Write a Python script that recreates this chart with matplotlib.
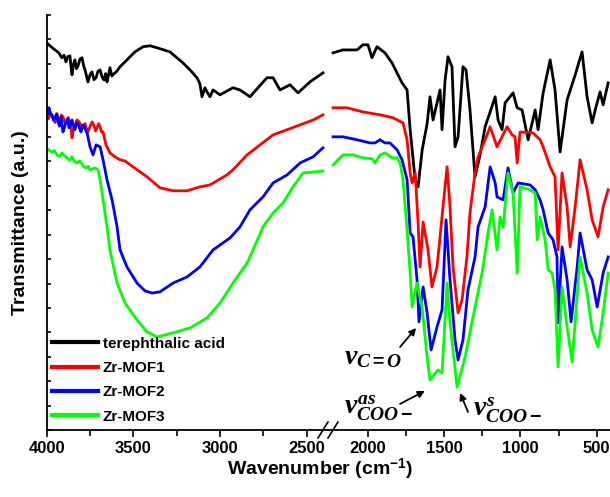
import matplotlib
matplotlib.use("Agg")
import matplotlib.pyplot as plt
from matplotlib.lines import Line2D

plt.rcParams['font.family'] = ['Liberation Sans', 'DejaVu Sans']
plt.rcParams['font.weight'] = 'bold'
plt.rcParams['mathtext.fontset'] = 'custom'
plt.rcParams['mathtext.rm'] = 'Liberation Sans:bold'
plt.rcParams['mathtext.bf'] = 'Liberation Sans:bold'
plt.rcParams['mathtext.it'] = 'Liberation Serif:italic:bold'

# ---- high wavenumber part (4000 - 2400 cm-1) ----
tpa_hi_wn = [4000, 3975, 3952, 3930, 3913, 3900, 3889, 3878, 3866, 3860, 3854, 3845, 3837, 3828,
             3819, 3808, 3796, 3788, 3779, 3770, 3762, 3750, 3739, 3727, 3715, 3704, 3692, 3680,
             3669, 3660, 3652, 3643, 3635, 3624, 3612, 3595, 3577, 3537, 3491, 3444, 3404, 3364,
             3289, 3214, 3173, 3133, 3116, 3104, 3087, 3075, 3058, 3040, 3000, 2925, 2885, 2827,
             2781, 2729, 2694, 2654, 2596, 2550, 2481, 2406]
tpa_hi = [15.86, 15.70, 15.57, 15.45, 15.25, 15.35, 15.08, 15.30, 15.33, 14.90, 14.55, 15.00, 15.16,
          14.80, 14.92, 15.20, 15.25, 14.95, 14.75, 14.50, 14.26, 14.55, 14.67, 14.35, 14.43, 14.70,
          14.75, 14.45, 14.34, 14.60, 14.26, 14.55, 14.84, 14.50, 14.59, 14.70, 14.88, 15.16, 15.49,
          15.70, 15.74, 15.66, 15.49, 15.04, 14.75, 14.43, 14.18, 13.65, 14.02, 13.85, 13.65, 13.93,
          13.73, 14.02, 13.93, 13.65, 14.02, 14.43, 14.43, 13.93, 14.14, 13.81, 14.26, 14.63]

mof1_hi_wn = [4000, 3990, 3981, 3972, 3964, 3952, 3941, 3932, 3923, 3915, 3906, 3895, 3883, 3875,
              3866, 3860, 3854, 3846, 3837, 3825, 3813, 3802, 3790, 3778, 3767, 3758, 3750, 3738,
              3727, 3718, 3710, 3700, 3692, 3683, 3675, 3658, 3645, 3635, 3606, 3577, 3548, 3502,
              3421, 3346, 3271, 3190, 3116, 3058, 2960, 2925, 2844, 2769, 2694, 2613, 2538, 2463, 2406]
mof1_hi = [12.91, 12.75, 13.03, 12.85, 12.79, 12.60, 12.95, 12.72, 12.66, 12.90, 12.83, 12.60, 12.70,
           12.80, 12.54, 12.40, 11.97, 12.30, 12.46, 12.70, 12.62, 12.45, 12.38, 12.55, 12.17, 12.30,
           12.42, 12.62, 12.46, 12.25, 12.38, 12.55, 12.42, 12.20, 12.21, 11.68, 11.50, 11.35, 11.19,
           11.07, 11.02, 10.78, 10.37, 9.92, 9.80, 9.80, 9.96, 10.04, 10.45, 10.66, 11.27, 11.68,
           12.09, 12.30, 12.50, 12.70, 12.91]

mof2_hi_wn = [4000, 3993, 3987, 3978, 3969, 3960, 3952, 3943, 3935, 3926, 3917, 3912, 3906, 3897,
              3889, 3880, 3871, 3862, 3854, 3845, 3837, 3828, 3819, 3810, 3802, 3793, 3785, 3776,
              3767, 3750, 3733, 3715, 3692, 3675, 3652, 3623, 3594, 3577, 3537, 3479, 3433, 3392,
              3346, 3271, 3190, 3116, 3040, 3000, 2942, 2885, 2827, 2752, 2694, 2613, 2538, 2463, 2406]
mof2_hi = [13.11, 12.95, 13.20, 12.95, 12.91, 12.70, 12.79, 12.95, 12.62, 12.45, 12.83, 12.50, 12.21,
           12.40, 12.62, 12.75, 12.38, 12.55, 12.70, 12.45, 12.30, 12.60, 12.54, 12.35, 12.21, 12.50,
           12.46, 12.30, 12.17, 11.60, 11.27, 11.68, 11.60, 11.07, 10.25, 9.43, 8.32, 7.38, 6.68,
           6.02, 5.70, 5.61, 5.66, 6.02, 6.27, 6.68, 7.38, 7.58, 7.87, 8.32, 9.02, 9.55, 10.12, 10.45,
           10.94, 11.19, 11.56]

mof3_hi_wn = [4000, 3985, 3969, 3955, 3941, 3926, 3912, 3898, 3883, 3868, 3854, 3840, 3825, 3810,
              3796, 3785, 3773, 3760, 3750, 3735, 3721, 3704, 3692, 3675, 3652, 3635, 3623, 3594,
              3548, 3479, 3421, 3364, 3271, 3173, 3075, 3000, 2925, 2844, 2809, 2752, 2694, 2636,
              2579, 2521, 2463, 2406]
mof3_hi = [11.56, 11.45, 11.39, 11.45, 11.27, 11.20, 11.35, 11.25, 11.15, 11.05, 11.19, 11.00, 10.94,
           11.02, 10.90, 10.78, 10.74, 10.80, 10.66, 10.70, 10.74, 10.66, 10.25, 9.43, 8.32, 7.38,
           6.97, 6.02, 5.20, 4.51, 4.02, 3.81, 3.98, 4.18, 4.59, 5.20, 6.02, 6.84, 7.38, 8.32, 8.89,
           9.30, 9.96, 10.53, 10.57, 10.61]

# ---- fingerprint part (2250 - 420 cm-1) ----
tpa_lo_wn = [2227, 2162, 2070, 2031, 1998, 1972, 1939, 1887, 1841, 1808, 1775, 1742, 1722, 1689,
             1670, 1643, 1610, 1592, 1572, 1546, 1526, 1513, 1493, 1474, 1448, 1428, 1408, 1376,
             1356, 1330, 1297, 1264, 1231, 1198, 1165, 1146, 1120, 1100, 1048, 1021, 989, 949, 903,
             884, 851, 805, 773, 740, 694, 641, 596, 563, 530, 510, 478, 458, 425]
tpa_lo = [15.45, 15.57, 15.57, 15.78, 15.78, 15.25, 15.70, 15.45, 15.04, 14.63, 14.22, 13.93, 12.30,
          10.25, 9.96, 11.48, 12.58, 13.65, 12.70, 13.40, 13.93, 12.30, 14.34, 15.29, 14.88, 11.60,
          12.01, 14.88, 14.75, 13.11, 10.37, 11.27, 12.42, 13.03, 13.65, 12.70, 12.30, 13.40, 13.81,
          13.20, 13.11, 11.89, 13.11, 12.30, 13.81, 15.16, 13.93, 11.39, 13.52, 14.55, 15.49, 13.65,
          12.58, 13.11, 13.85, 13.32, 14.22]

mof1_lo_wn = [2227, 2136, 2031, 1919, 1834, 1769, 1742, 1722, 1709, 1689, 1670, 1657, 1637, 1605,
              1579, 1546, 1526, 1507, 1480, 1461, 1441, 1408, 1382, 1350, 1330, 1297, 1277, 1231,
              1198, 1153, 1120, 1087, 1054, 1035, 1021, 1002, 917, 871, 851, 805, 773, 753, 727, 694,
              674, 641, 609, 563, 530, 491, 458, 425]
mof1_lo = [13.20, 13.20, 13.03, 12.91, 12.79, 12.58, 11.89, 10.53, 10.12, 10.53, 8.48, 6.68, 8.52,
           7.38, 5.86, 6.68, 7.91, 9.14, 10.78, 9.14, 6.68, 4.80, 5.33, 7.09, 8.89, 10.53, 11.19,
           11.89, 12.42, 11.60, 12.01, 12.42, 12.09, 12.01, 10.94, 12.21, 12.17, 11.89, 11.60, 10.78,
           10.37, 7.38, 10.53, 9.14, 7.50, 9.14, 11.07, 9.84, 8.61, 7.91, 9.14, 9.84]

mof2_lo_wn = [2227, 2162, 2070, 1985, 1952, 1919, 1887, 1854, 1808, 1775, 1742, 1722, 1703, 1677,
              1664, 1637, 1611, 1585, 1546, 1513, 1487, 1461, 1428, 1408, 1376, 1343, 1297, 1277,
              1231, 1198, 1165, 1153, 1113, 1081, 1048, 1015, 937, 903, 871, 851, 818, 786, 760, 753,
              727, 694, 668, 628, 609, 563, 530, 497, 458, 425]
mof2_lo = [12.01, 12.01, 11.89, 11.76, 11.76, 11.89, 11.76, 11.76, 11.48, 11.07, 10.25, 8.07, 7.91,
           6.15, 4.43, 5.86, 4.80, 3.28, 4.22, 4.92, 8.61, 6.15, 3.69, 2.87, 3.69, 5.74, 7.09, 8.32,
           9.14, 10.78, 10.12, 9.55, 9.43, 10.74, 9.71, 10.12, 10.04, 9.84, 9.43, 9.02, 8.07, 7.79,
           7.09, 4.39, 7.50, 6.15, 4.43, 6.68, 8.07, 6.56, 6.15, 5.04, 6.43, 7.09]

mof3_lo_wn = [2227, 2162, 2096, 2031, 1972, 1952, 1919, 1887, 1841, 1808, 1788, 1769, 1742, 1722,
              1709, 1677, 1644, 1611, 1592, 1539, 1513, 1480, 1461, 1415, 1362, 1297, 1251, 1212,
              1185, 1153, 1133, 1113, 1081, 1048, 1021, 1002, 937, 903, 890, 871, 838, 818, 792, 773,
              753, 727, 694, 661, 609, 563, 530, 491, 458, 425]
mof3_lo = [10.86, 11.27, 11.27, 11.15, 11.11, 10.94, 11.27, 11.35, 11.15, 11.15, 10.94, 10.25, 8.20,
           6.43, 5.04, 6.02, 5.04, 2.99, 2.05, 2.46, 2.34, 6.02, 4.39, 1.76, 2.99, 5.04, 6.43, 8.07,
           9.02, 7.38, 8.73, 8.32, 10.53, 9.71, 6.43, 9.96, 9.84, 9.71, 7.79, 8.73, 7.79, 6.56, 6.43,
           5.74, 2.58, 5.86, 4.22, 2.79, 7.09, 5.61, 4.10, 3.40, 4.80, 6.43]

labels = ['terephthalic acid', 'Zr-MOF1', 'Zr-MOF2', 'Zr-MOF3']
colors = ['black', '#ff0000', '#0000ff', '#00ff00']

W, H = 610, 497
fig = plt.figure(figsize=(W / 100, H / 100), dpi=100)
x0, xb, ybot, ytop = 46.7, 328, 430, 15
ax1 = fig.add_axes([x0 / W, 1 - ybot / H, (xb - x0) / W, (ybot - ytop) / H])
ax2 = fig.add_axes([xb / W, 1 - ybot / H, (W - xb) / W, (ybot - ytop) / H])

hi = [(tpa_hi_wn, tpa_hi), (mof1_hi_wn, mof1_hi), (mof2_hi_wn, mof2_hi), (mof3_hi_wn, mof3_hi)]
lo = [(tpa_lo_wn, tpa_lo), (mof1_lo_wn, mof1_lo), (mof2_lo_wn, mof2_lo), (mof3_lo_wn, mof3_lo)]
for (wn, t), lab, c in zip(hi, labels, colors):
    ax1.plot(wn, t, color=c, lw=2.0, label=lab, solid_joinstyle='round')
for (wn, t), c in zip(lo, colors):
    ax2.plot(wn, t, color=c, lw=2.0, solid_joinstyle='round')

ax1.set_xlim(4000, 2377)
ax2.set_xlim(2260, 413)
for ax in (ax1, ax2):
    ax.set_ylim(0, 17)
    ax.spines['top'].set_visible(False)
    ax.spines['right'].set_visible(False)
    ax.tick_params(axis='x', which='major', direction='out', length=5, width=1.2,
                   labelsize=12, pad=3)
    ax.tick_params(axis='x', which='minor', direction='out', length=4, width=1.2)
ax2.spines['left'].set_visible(False)
ax2.set_yticks([])

ax1.set_xticks([4000, 3500, 3000, 2500])
ax1.set_xticks([3750, 3250, 2750], minor=True)
ax2.set_xticks([2000, 1500, 1000, 500])
ax2.set_xticks([1750, 1250, 750], minor=True)
ax1.set_xticklabels(['4000', '3500', '3000', '2500'], fontweight='bold')
ax2.set_xticklabels(['2000', '1500', '1000', '500'], fontweight='bold')

ax1.set_yticks(range(0, 18))
ax1.set_yticklabels([])
ax1.tick_params(axis='y', direction='in', length=3, width=1.2)
for ax in (ax1, ax2):
    for s in ax.spines.values():
        s.set_linewidth(1.3)

ax1.set_ylabel('Transmittance (a.u.)', fontsize=14, fontweight='bold', labelpad=9)
fig.text(0.525, 0.045, 'Wavenumber (cm$^{-1}$)', ha='center', va='baseline',
         fontsize=14, fontweight='bold')

leg = ax1.legend(loc='lower left', bbox_to_anchor=(0.018, 0.015), frameon=False,
                 fontsize=11, handlelength=3.0, handletextpad=0.35, labelspacing=0.68,
                 borderpad=0, borderaxespad=0)
for h in leg.get_lines():
    h.set_linewidth(3)
for t in leg.get_texts():
    t.set_fontweight('bold')

# band assignments
arrow = dict(arrowstyle='-|>', color='black', lw=1.3, shrinkA=0, shrinkB=0, mutation_scale=10)
ax2.text(1963, 2.99, r'$\nu_{C=O}$', fontsize=20, ha='center', va='center')
ax2.annotate('', xy=(1683, 4.18), xytext=(1788, 3.40), arrowprops=arrow)
ax2.text(1930, 0.90, r'$\nu_{COO-}^{as}$', fontsize=20, ha='center', va='center', clip_on=False)
ax2.annotate('', xy=(1625, 1.60), xytext=(1788, 1.07), arrowprops=arrow)
ax2.text(1087, 0.82, r'$\nu_{COO-}^{s}$', fontsize=20, ha='center', va='center', clip_on=False)
ax2.annotate('', xy=(1395, 1.52), xytext=(1343, 0.74), arrowprops=arrow)

# axis break marks
for xa in (318, 328):
    fig.add_artist(Line2D([xa / W, (xa + 10) / W], [1 - 438 / H, 1 - 422 / H],
                          transform=fig.transFigure, color='black', lw=1.2))

fig.savefig('out.png', dpi=100)
